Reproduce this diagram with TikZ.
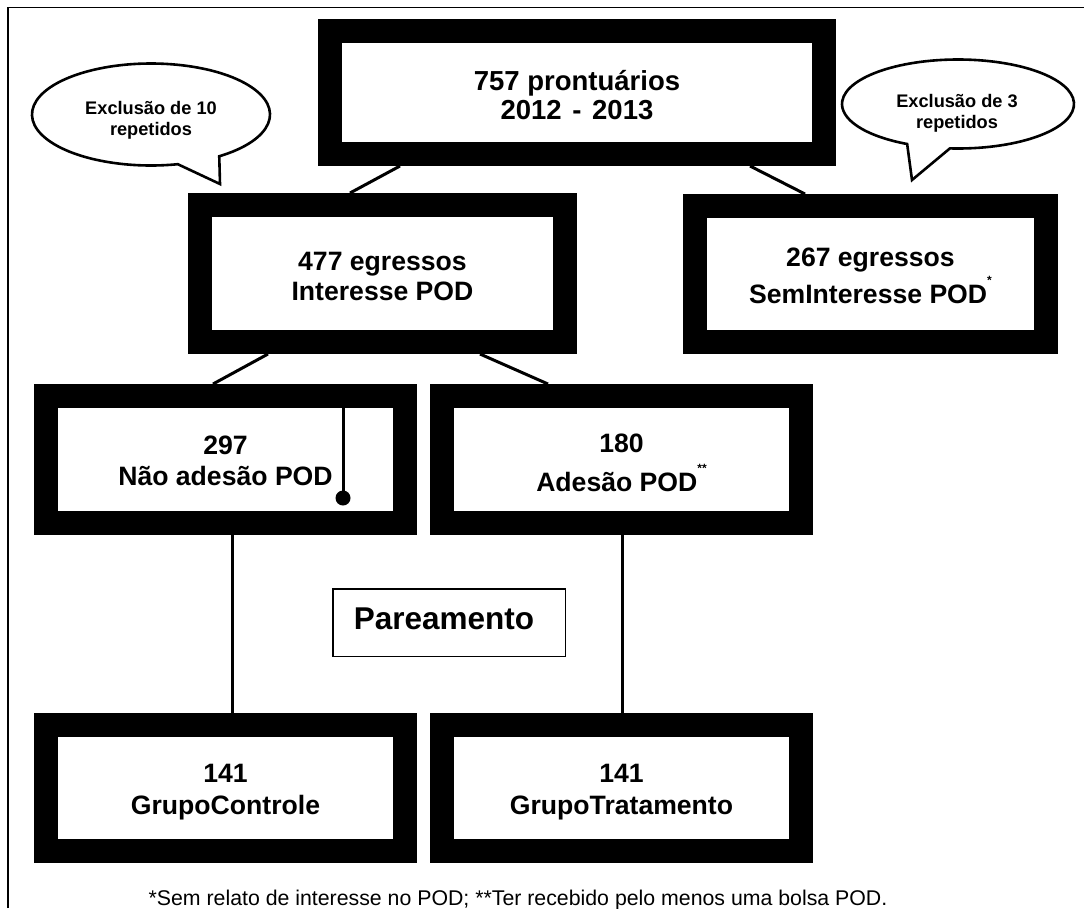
\documentclass[tikz,border=0pt]{standalone}
\usepackage{fontspec}
\setmainfont{Liberation Sans}
\usetikzlibrary{calc}
\newcommand\bxfont{\fontsize{26.6}{30}\selectfont\bfseries}
\newcommand\tpfont{\fontsize{27.5}{29}\selectfont\bfseries}
\newcommand\bbfont{\fontsize{18.2}{21}\selectfont\bfseries}
\newcommand\supstar[1]{\smash{\raisebox{19pt}{\fontsize{12}{12}\selectfont #1}}}
\newcommand\topstr[1]{\rule{0pt}{#1}}
\newcommand\botstr{\rule[-6pt]{0pt}{6pt}}
\begin{document}
\begin{tikzpicture}[x=1pt,y=-1pt,
  thickbox/.style={draw=black, fill=white, line width=24pt, outer sep=12pt,
    inner sep=0pt, align=center, font=\bxfont},
  conn/.style={line width=3pt},
  bubble/.style={draw=black, fill=white, line width=2.6pt, line join=miter},
  bubtext/.style={align=center, font=\bbfont, inner sep=0pt},
  pairbox/.style={draw=black, line width=1.5pt, outer sep=0.75pt, inner sep=0pt,
    font=\fontsize{31.5}{34}\selectfont\bfseries},
]
\useasboundingbox (0,0) rectangle (1084,908);
% frame
\draw[line width=1.6pt] (8,908) -- (8,7.5) -- (1084,7.5);

% boxes
\node[thickbox, font=\tpfont, minimum width=494pt, minimum height=123pt] (top) at (577,92.5)
  {\topstr{31.7pt}757 prontuários\\2012\hspace{3pt} - \hspace{3pt}2013\botstr};
\node[thickbox, minimum width=365pt, minimum height=137pt] (int) at (382.5,273.5)
  {\topstr{29pt}477 egressos\\Interesse POD\botstr};
\node[thickbox, minimum width=351pt, minimum height=136pt] (sem) at (870.5,274)
  {\topstr{27pt}267 egressos\\[7pt]SemInteresse POD\supstar{*}\botstr};
\node[thickbox, minimum width=359pt, minimum height=127pt] (nao) at (225.5,459.5)
  {\topstr{27pt}297\\[1pt]Não adesão POD\botstr};
\node[thickbox, minimum width=359pt, minimum height=127pt] (ade) at (621.5,459.5)
  {\topstr{31pt}180\\[9pt]Adesão POD\supstar{**}\botstr};
\node[thickbox, minimum width=359pt, minimum height=126pt] (ctl) at (225.5,788)
  {\topstr{27pt}141\\[2pt]GrupoControle\botstr};
\node[thickbox, minimum width=359pt, minimum height=126pt] (trt) at (621.5,788)
  {\topstr{27pt}141\\[2pt]GrupoTratamento\botstr};

\node[pairbox, minimum width=232.5pt, minimum height=67.5pt] (par) at (449,622.5)
  {Pareamento\hspace{10pt}\rule[-7pt]{0pt}{7pt}};

% connectors
\draw[conn] ($(top.south)+(-177,0)$) -- ($(int.north)+(-32.5,0)$);
\draw[conn] ($(top.south)+(173,0)$) -- ($(sem.north)+(-65.5,0)$);
\draw[conn] ($(int.south)+(-114.5,0)$) -- ($(nao.north)+(-12.5,0)$);
\draw[conn] ($(int.south)+(97.5,0)$) -- ($(ade.north)+(-73.5,0)$);
\draw[conn] ($(nao.south)+(6.5,0)$) -- ($(ctl.north)+(6.5,0)$);
\draw[conn] ($(ade.south)+(0.5,0)$) -- ($(trt.north)+(0.5,0)$);
% pin inside 297 box
\draw[conn] ($(nao.north)+(117.5,20)$) -- ($(nao.north)+(117.5,114)$);
\fill ($(nao.north)+(117.5,114)$) circle[radius=7.5pt];

% speech bubbles
\coordinate (lbc) at (151,114.5);
\coordinate (ltip) at (220,184);
\draw[bubble] ($(lbc)+(-55:119pt and 51pt)$)
  arc[start angle=-55, end angle=283, x radius=119pt, y radius=51pt]
  -- (ltip) -- cycle;
\node[bubtext] (lb) at (151,120.5) {Exclusão de 10\\repetidos};

\coordinate (rbc) at (958,104);
\coordinate (rtip) at (912,180);
\draw[bubble] ($(rbc)+(-94:116pt and 44.5pt)$)
  arc[start angle=-94, end angle=244, x radius=116pt, y radius=44.5pt]
  -- (rtip) -- cycle;
\node[bubtext] (rb) at (957,113.5) {Exclusão de 3\\repetidos};

% footnote
\node[anchor=base, inner sep=0pt, font=\fontsize{21.3}{21}\selectfont] (fn) at (518,905)
  {*Sem relato de interesse no POD; **Ter recebido pelo menos uma bolsa POD.};
\end{tikzpicture}
\end{document}
